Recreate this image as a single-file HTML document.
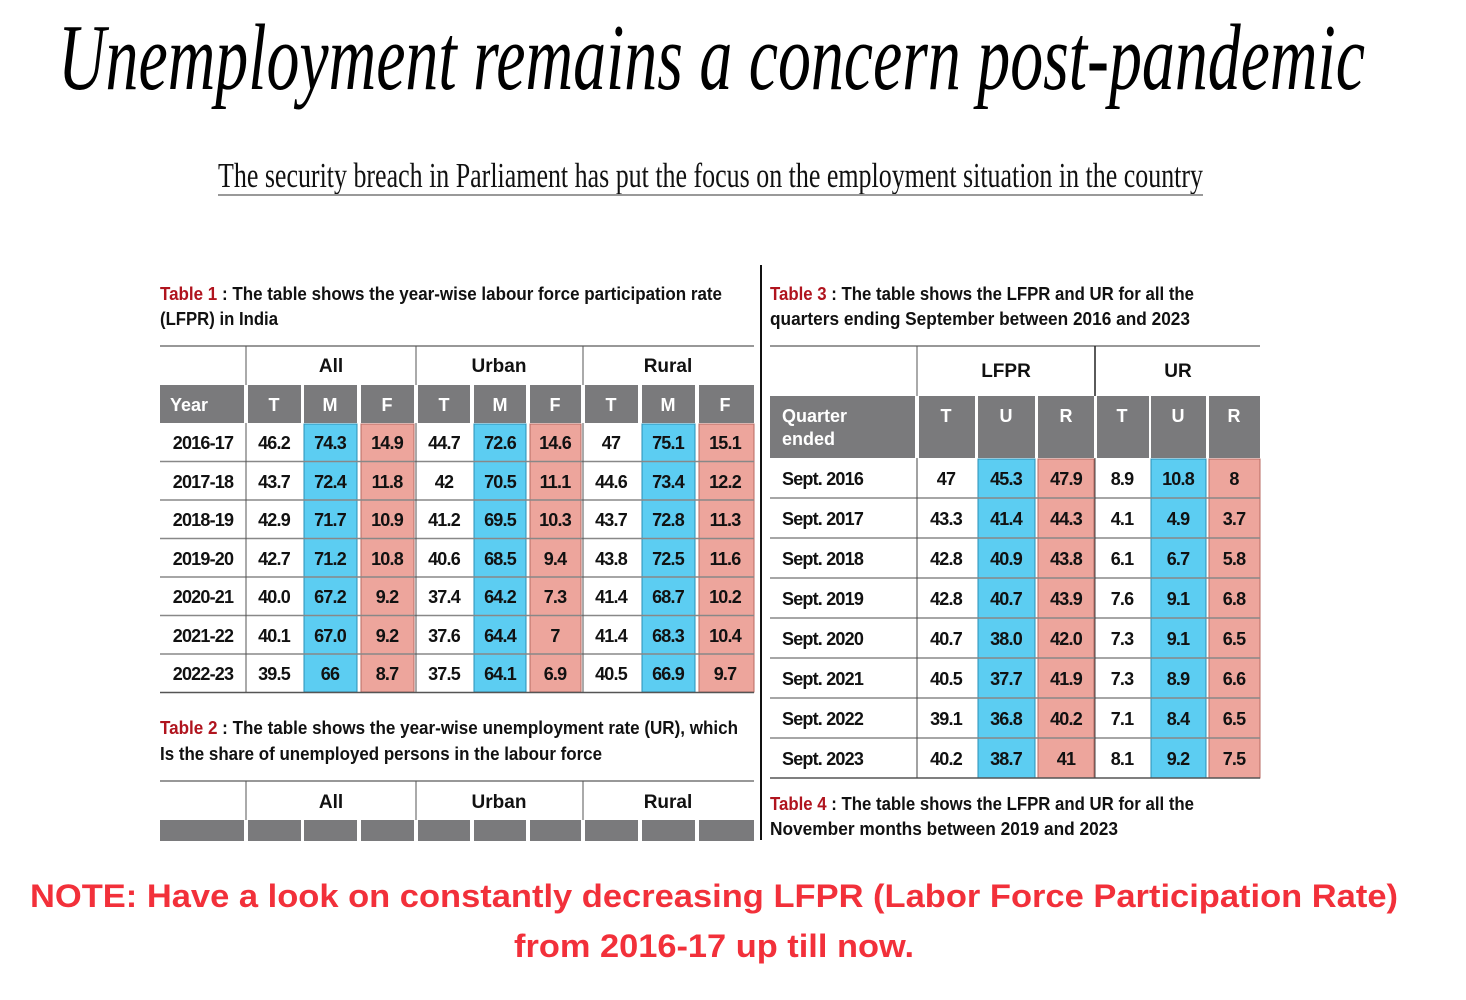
<!DOCTYPE html>
<html><head><meta charset="utf-8"><style>
html,body{margin:0;padding:0;background:#fff;}
svg{display:block;}
.c{font-family:"Liberation Sans",sans-serif;font-weight:bold;font-size:18px;fill:#111;text-anchor:middle;letter-spacing:-0.8px;}
.h{font-family:"Liberation Sans",sans-serif;font-weight:bold;font-size:18px;fill:#fff;text-anchor:middle;}
.g{font-family:"Liberation Sans",sans-serif;font-weight:bold;font-size:19px;fill:#111;text-anchor:middle;}
.cap{font-family:"Liberation Sans",sans-serif;font-weight:bold;font-size:18px;fill:#111;}
.b{fill:#5ccdf2;stroke:#2a8fb5;stroke-width:1;}
.r{fill:#eda59c;stroke:#b86a62;stroke-width:1;}
.gr{fill:#7a7a7c;}
</style></head><body>
<svg width="1466" height="1000" xmlns="http://www.w3.org/2000/svg">
<text x="58" y="89" font-family="Liberation Serif,serif" font-style="italic" font-size="94" textLength="1307" lengthAdjust="spacingAndGlyphs" fill="#000">Unemployment remains a concern post-pandemic</text>
<text x="218" y="187" font-family="Liberation Serif,serif" font-size="35" textLength="985" lengthAdjust="spacingAndGlyphs" fill="#111">The security breach in Parliament has put the focus on the employment situation in the country</text>
<line x1="218" y1="195" x2="1203" y2="195" stroke="#999" stroke-width="2"/>

<line x1="761" y1="265" x2="761" y2="840" stroke="#111" stroke-width="2"/>

<!-- Table 1 caption -->
<text class="cap" x="160" y="300" textLength="562" lengthAdjust="spacingAndGlyphs"><tspan fill="#b0141e">Table 1</tspan> : The table shows the year-wise labour force participation rate</text>
<text class="cap" x="160" y="325" textLength="118" lengthAdjust="spacingAndGlyphs">(LFPR) in India</text>

<!-- Table 1 -->
<line x1="160" y1="346" x2="754" y2="346" stroke="#777" stroke-width="1.5"/>
<line x1="246" y1="346" x2="246" y2="385" stroke="#555"/>
<line x1="416" y1="346" x2="416" y2="385" stroke="#555"/>
<line x1="583" y1="346" x2="583" y2="385" stroke="#555"/>
<text class="g" x="331" y="372">All</text><text class="g" x="499" y="372">Urban</text><text class="g" x="668" y="372">Rural</text>
<rect class="gr" x="160" y="385" width="84" height="38"/>
<rect class="gr" x="248" y="385" width="53" height="38"/><rect class="gr" x="304" y="385" width="53" height="38"/><rect class="gr" x="361" y="385" width="53" height="38"/>
<rect class="gr" x="418" y="385" width="52" height="38"/><rect class="gr" x="474" y="385" width="52" height="38"/><rect class="gr" x="530" y="385" width="51" height="38"/>
<rect class="gr" x="585" y="385" width="53" height="38"/><rect class="gr" x="642" y="385" width="53" height="38"/><rect class="gr" x="699" y="385" width="55" height="38"/>
<text class="h" x="170" y="411" text-anchor="start" style="text-anchor:start">Year</text>
<text class="h" x="274" y="411">T</text><text class="h" x="330" y="411">M</text><text class="h" x="387" y="411">F</text>
<text class="h" x="444" y="411">T</text><text class="h" x="500" y="411">M</text><text class="h" x="555" y="411">F</text>
<text class="h" x="611" y="411">T</text><text class="h" x="668" y="411">M</text><text class="h" x="725" y="411">F</text>
<!-- colored columns -->
<g>
<rect class="b" x="304" y="424" width="53" height="268"/><rect class="r" x="361" y="424" width="53" height="268"/>
<rect class="b" x="474" y="424" width="52" height="268"/><rect class="r" x="530" y="424" width="51" height="268"/>
<rect class="b" x="642" y="424" width="53" height="268"/><rect class="r" x="699" y="424" width="55" height="268"/>
</g>
<g stroke="#888" stroke-width="1.5">
<line x1="160" y1="461.5" x2="754" y2="461.5"/><line x1="160" y1="500" x2="754" y2="500"/><line x1="160" y1="538.5" x2="754" y2="538.5"/>
<line x1="160" y1="577" x2="754" y2="577"/><line x1="160" y1="615.5" x2="754" y2="615.5"/><line x1="160" y1="654" x2="754" y2="654"/>
<line x1="160" y1="692.5" x2="754" y2="692.5" stroke="#555"/>
</g>
<g stroke="#555" stroke-width="1"><line x1="246" y1="423" x2="246" y2="692"/><line x1="416" y1="423" x2="416" y2="692"/><line x1="583" y1="423" x2="583" y2="692"/></g>
<g class="c">
<text x="203" y="449">2016-17</text><text x="274" y="449">46.2</text><text x="330" y="449">74.3</text><text x="387" y="449">14.9</text><text x="444" y="449">44.7</text><text x="500" y="449">72.6</text><text x="555" y="449">14.6</text><text x="611" y="449">47</text><text x="668" y="449">75.1</text><text x="725" y="449">15.1</text>
<text x="203" y="488">2017-18</text><text x="274" y="488">43.7</text><text x="330" y="488">72.4</text><text x="387" y="488">11.8</text><text x="444" y="488">42</text><text x="500" y="488">70.5</text><text x="555" y="488">11.1</text><text x="611" y="488">44.6</text><text x="668" y="488">73.4</text><text x="725" y="488">12.2</text>
<text x="203" y="526">2018-19</text><text x="274" y="526">42.9</text><text x="330" y="526">71.7</text><text x="387" y="526">10.9</text><text x="444" y="526">41.2</text><text x="500" y="526">69.5</text><text x="555" y="526">10.3</text><text x="611" y="526">43.7</text><text x="668" y="526">72.8</text><text x="725" y="526">11.3</text>
<text x="203" y="565">2019-20</text><text x="274" y="565">42.7</text><text x="330" y="565">71.2</text><text x="387" y="565">10.8</text><text x="444" y="565">40.6</text><text x="500" y="565">68.5</text><text x="555" y="565">9.4</text><text x="611" y="565">43.8</text><text x="668" y="565">72.5</text><text x="725" y="565">11.6</text>
<text x="203" y="603">2020-21</text><text x="274" y="603">40.0</text><text x="330" y="603">67.2</text><text x="387" y="603">9.2</text><text x="444" y="603">37.4</text><text x="500" y="603">64.2</text><text x="555" y="603">7.3</text><text x="611" y="603">41.4</text><text x="668" y="603">68.7</text><text x="725" y="603">10.2</text>
<text x="203" y="642">2021-22</text><text x="274" y="642">40.1</text><text x="330" y="642">67.0</text><text x="387" y="642">9.2</text><text x="444" y="642">37.6</text><text x="500" y="642">64.4</text><text x="555" y="642">7</text><text x="611" y="642">41.4</text><text x="668" y="642">68.3</text><text x="725" y="642">10.4</text>
<text x="203" y="680">2022-23</text><text x="274" y="680">39.5</text><text x="330" y="680">66</text><text x="387" y="680">8.7</text><text x="444" y="680">37.5</text><text x="500" y="680">64.1</text><text x="555" y="680">6.9</text><text x="611" y="680">40.5</text><text x="668" y="680">66.9</text><text x="725" y="680">9.7</text>
</g>

<!-- Table 2 -->
<text class="cap" x="160" y="734" textLength="578" lengthAdjust="spacingAndGlyphs"><tspan fill="#b0141e">Table 2</tspan> : The table shows the year-wise unemployment rate (UR), which</text>
<text class="cap" x="160" y="760" textLength="442" lengthAdjust="spacingAndGlyphs">Is the share of unemployed persons in the labour force</text>
<line x1="160" y1="781" x2="754" y2="781" stroke="#777" stroke-width="1.5"/>
<line x1="246" y1="781" x2="246" y2="820" stroke="#555"/>
<line x1="416" y1="781" x2="416" y2="820" stroke="#555"/>
<line x1="583" y1="781" x2="583" y2="820" stroke="#555"/>
<text class="g" x="331" y="808">All</text><text class="g" x="499" y="808">Urban</text><text class="g" x="668" y="808">Rural</text>
<rect class="gr" x="160" y="820" width="84" height="21"/>
<rect class="gr" x="248" y="820" width="53" height="21"/><rect class="gr" x="304" y="820" width="53" height="21"/><rect class="gr" x="361" y="820" width="53" height="21"/>
<rect class="gr" x="418" y="820" width="52" height="21"/><rect class="gr" x="474" y="820" width="52" height="21"/><rect class="gr" x="530" y="820" width="51" height="21"/>
<rect class="gr" x="585" y="820" width="53" height="21"/><rect class="gr" x="642" y="820" width="53" height="21"/><rect class="gr" x="699" y="820" width="55" height="21"/>

<!-- Table 3 -->
<text class="cap" x="770" y="300" textLength="424" lengthAdjust="spacingAndGlyphs"><tspan fill="#b0141e">Table 3</tspan> : The table shows the LFPR and UR for all the</text>
<text class="cap" x="770" y="325" textLength="420" lengthAdjust="spacingAndGlyphs">quarters ending September between 2016 and 2023</text>
<line x1="770" y1="346" x2="1260" y2="346" stroke="#777" stroke-width="1.5"/>
<line x1="917" y1="346" x2="917" y2="396" stroke="#555"/>
<line x1="1095" y1="346" x2="1095" y2="396" stroke="#222" stroke-width="1.5"/>
<text class="g" x="1006" y="377">LFPR</text><text class="g" x="1178" y="377">UR</text>
<rect class="gr" x="770" y="396" width="145" height="62"/>
<rect class="gr" x="919" y="396" width="56" height="62"/><rect class="gr" x="978" y="396" width="57" height="62"/><rect class="gr" x="1038" y="396" width="56" height="62"/>
<rect class="gr" x="1097" y="396" width="52" height="62"/><rect class="gr" x="1151" y="396" width="55" height="62"/><rect class="gr" x="1209" y="396" width="51" height="62"/>
<text class="h" x="782" y="422" style="text-anchor:start">Quarter</text><text class="h" x="782" y="445" style="text-anchor:start">ended</text>
<text class="h" x="946" y="422">T</text><text class="h" x="1006" y="422">U</text><text class="h" x="1066" y="422">R</text>
<text class="h" x="1122" y="422">T</text><text class="h" x="1178" y="422">U</text><text class="h" x="1234" y="422">R</text>
<rect class="b" x="978" y="459" width="57" height="319"/><rect class="r" x="1038" y="459" width="56" height="319"/>
<rect class="b" x="1151" y="459" width="55" height="319"/><rect class="r" x="1209" y="459" width="51" height="319"/>
<g stroke="#888" stroke-width="1.5">
<line x1="770" y1="498" x2="1260" y2="498"/><line x1="770" y1="538" x2="1260" y2="538"/><line x1="770" y1="578" x2="1260" y2="578"/>
<line x1="770" y1="618" x2="1260" y2="618"/><line x1="770" y1="658" x2="1260" y2="658"/><line x1="770" y1="698" x2="1260" y2="698"/>
<line x1="770" y1="738" x2="1260" y2="738"/><line x1="770" y1="778" x2="1260" y2="778" stroke="#555"/>
</g>
<g stroke="#444" stroke-width="1"><line x1="917" y1="458" x2="917" y2="778"/><line x1="1095" y1="458" x2="1095" y2="778"/></g>
<g class="c">
<text x="782" y="485" style="text-anchor:start">Sept. 2016</text><text x="946" y="485">47</text><text x="1006" y="485">45.3</text><text x="1066" y="485">47.9</text><text x="1122" y="485">8.9</text><text x="1178" y="485">10.8</text><text x="1234" y="485">8</text>
<text x="782" y="525" style="text-anchor:start">Sept. 2017</text><text x="946" y="525">43.3</text><text x="1006" y="525">41.4</text><text x="1066" y="525">44.3</text><text x="1122" y="525">4.1</text><text x="1178" y="525">4.9</text><text x="1234" y="525">3.7</text>
<text x="782" y="565" style="text-anchor:start">Sept. 2018</text><text x="946" y="565">42.8</text><text x="1006" y="565">40.9</text><text x="1066" y="565">43.8</text><text x="1122" y="565">6.1</text><text x="1178" y="565">6.7</text><text x="1234" y="565">5.8</text>
<text x="782" y="605" style="text-anchor:start">Sept. 2019</text><text x="946" y="605">42.8</text><text x="1006" y="605">40.7</text><text x="1066" y="605">43.9</text><text x="1122" y="605">7.6</text><text x="1178" y="605">9.1</text><text x="1234" y="605">6.8</text>
<text x="782" y="645" style="text-anchor:start">Sept. 2020</text><text x="946" y="645">40.7</text><text x="1006" y="645">38.0</text><text x="1066" y="645">42.0</text><text x="1122" y="645">7.3</text><text x="1178" y="645">9.1</text><text x="1234" y="645">6.5</text>
<text x="782" y="685" style="text-anchor:start">Sept. 2021</text><text x="946" y="685">40.5</text><text x="1006" y="685">37.7</text><text x="1066" y="685">41.9</text><text x="1122" y="685">7.3</text><text x="1178" y="685">8.9</text><text x="1234" y="685">6.6</text>
<text x="782" y="725" style="text-anchor:start">Sept. 2022</text><text x="946" y="725">39.1</text><text x="1006" y="725">36.8</text><text x="1066" y="725">40.2</text><text x="1122" y="725">7.1</text><text x="1178" y="725">8.4</text><text x="1234" y="725">6.5</text>
<text x="782" y="765" style="text-anchor:start">Sept. 2023</text><text x="946" y="765">40.2</text><text x="1006" y="765">38.7</text><text x="1066" y="765">41</text><text x="1122" y="765">8.1</text><text x="1178" y="765">9.2</text><text x="1234" y="765">7.5</text>
</g>
<text class="cap" x="770" y="810" textLength="424" lengthAdjust="spacingAndGlyphs"><tspan fill="#b0141e">Table 4</tspan> : The table shows the LFPR and UR for all the</text>
<text class="cap" x="770" y="835" textLength="348" lengthAdjust="spacingAndGlyphs">November months between 2019 and 2023</text>

<!-- note -->
<text x="714" y="907" text-anchor="middle" font-family="Liberation Sans,sans-serif" font-weight="bold" font-size="32" fill="#f2303a" textLength="1368" lengthAdjust="spacingAndGlyphs">NOTE: Have a look on constantly decreasing LFPR (Labor Force Participation Rate)</text>
<text x="714" y="957" text-anchor="middle" font-family="Liberation Sans,sans-serif" font-weight="bold" font-size="32" fill="#f2303a" textLength="400" lengthAdjust="spacingAndGlyphs">from 2016-17 up till now.</text>
</svg>
</body></html>
